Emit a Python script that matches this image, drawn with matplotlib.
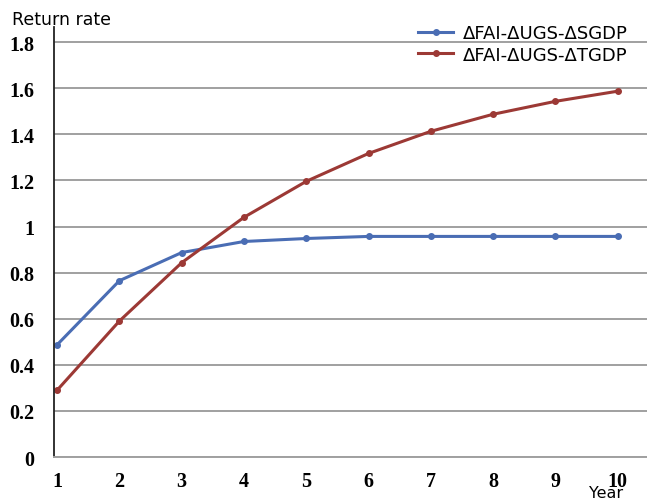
import matplotlib.pyplot as plt

years = [1, 2, 3, 4, 5, 6, 7, 8, 9, 10]
sgdp = [0.487, 0.765, 0.887, 0.935, 0.948, 0.957, 0.957, 0.957, 0.957, 0.957]
tgdp = [0.29, 0.59, 0.843, 1.04, 1.196, 1.317, 1.413, 1.487, 1.543, 1.587]
yticks = [0, 0.2, 0.4, 0.6, 0.8, 1, 1.2, 1.4, 1.6, 1.8]
ylabels = ['0', '0.2', '0.4', '0.6', '0.8', '1', '1.2', '1.4', '1.6', '1.8']

fig = plt.figure(figsize=(6.47, 5.02), dpi=100)
ax = fig.add_axes([0.0835, 0.0876, 0.9165, 0.8564])

ax.plot(years, sgdp, color='#4a6db4', lw=2.2, marker='o', ms=4, label='ΔFAI-ΔUGS-ΔSGDP')
ax.plot(years, tgdp, color='#9c3935', lw=2.2, marker='o', ms=4, label='ΔFAI-ΔUGS-ΔTGDP')

ax.set_xticks(years)
ax.set_xticklabels([str(y) for y in years], fontfamily='Liberation Serif', fontweight='bold', fontsize=14.5)
ax.set_yticks(yticks)
ax.set_yticklabels(ylabels, fontfamily='Liberation Serif', fontweight='bold', fontsize=14.5)
ax.set_xlim(0.95, 10.47)
ax.set_ylim(0, 1.865)
ax.tick_params(axis='y', length=0, pad=14)
ax.tick_params(axis='x', length=0, pad=10)
ax.yaxis.grid(True, color='#a0a0a0', lw=1.4)
ax.set_axisbelow(True)
for s in ['top', 'right']:
    ax.spines[s].set_visible(False)
ax.spines['left'].set_color('#222222')
ax.spines['left'].set_linewidth(1.3)
ax.spines['bottom'].set_color('#a0a0a0')
ax.spines['bottom'].set_linewidth(1.4)

fig.text(12 / 647, 1 - 20 / 502, 'Return rate', fontsize=12.5, va='center', ha='left')
fig.text(589 / 647, 1 / 502, 'Year', fontsize=11.5, va='bottom', ha='left')

ax.legend(loc='upper left', bbox_to_anchor=(418 / 647, 1 - 25 / 502), bbox_transform=fig.transFigure,
          frameon=False, fontsize=13, borderaxespad=0, borderpad=0,
          handlelength=1.95, handletextpad=0.55, labelspacing=0.2)

fig.savefig('out.png', dpi=100)
